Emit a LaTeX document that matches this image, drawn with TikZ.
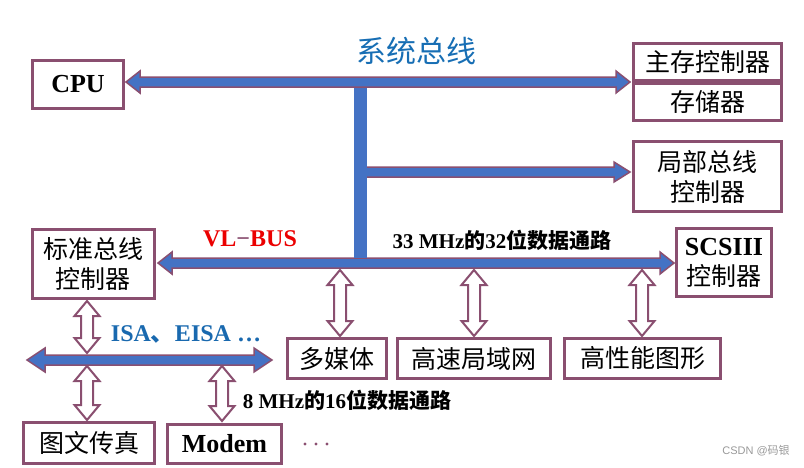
\documentclass[tikz,border=0pt]{standalone}
\usepackage{fontspec}
\setmainfont{Liberation Serif}
\newfontfamily\cjk{Noto Sans CJK SC}
\newfontfamily\wmfont{Liberation Sans}
\definecolor{brd}{RGB}{138,79,112}
\definecolor{busblue}{RGB}{68,114,196}
\definecolor{titleblue}{RGB}{23,110,180}
\definecolor{isablue}{RGB}{25,105,175}
\definecolor{vlred}{RGB}{235,0,0}
\newcommand\HBus[6]{\filldraw[bus] (#1,#3) -- (#1+#6,#3-#5) -- (#1+#6,#3-#4) -- (#2-#6,#3-#4) -- (#2-#6,#3-#5) -- (#2,#3) -- (#2-#6,#3+#5) -- (#2-#6,#3+#4) -- (#1+#6,#3+#4) -- (#1+#6,#3+#5) -- cycle;}
\newcommand\VArr[6]{\filldraw[hollow] (#1,#2) -- (#1+#5,#2+#6) -- (#1+#4,#2+#6) -- (#1+#4,#3-#6) -- (#1+#5,#3-#6) -- (#1,#3) -- (#1-#5,#3-#6) -- (#1-#4,#3-#6) -- (#1-#4,#2+#6) -- (#1-#5,#2+#6) -- cycle;}
\begin{document}
\begin{tikzpicture}[x=1pt,y=-1pt,
  box/.style={draw=brd, line width=2.7pt, fill=white, inner sep=0pt, align=center,
    font=\fontsize{25}{30}\selectfont\cjk},
  latinbox/.style={box, font=\fontsize{26}{30}\selectfont\bfseries},
  bus/.style={draw=brd, fill=busblue, line width=1.5pt, line join=miter},
  hollow/.style={draw=brd, fill=white, line width=2pt, line join=miter},
  lbl/.style={inner sep=0pt, font=\fontsize{21}{24}\selectfont\bfseries}]
\useasboundingbox (0,0) rectangle (804,467);
% boxes
\node[latinbox, minimum width=91, minimum height=48] (cpu) at (78,84.5) {CPU};
\node[box, minimum width=148, minimum height=37] (mc) at (707.5,62) {主存控制器};
\node[box, minimum width=148, minimum height=37] (mem) at (707.5,102) {存储器};
\node[box, minimum width=148, minimum height=70] (lbc) at (707.5,176.5) {局部总线\\控制器};
\node[box, minimum width=122, minimum height=69] (sbc) at (93.5,264) {标准总线\\控制器};
\node[box, minimum width=95, minimum height=68] (scsi) at (724,262.5) {{\rmfamily\bfseries\fontsize{26}{30}\selectfont SCSIII}\\控制器};
\node[box, minimum width=99, minimum height=40] (mm) at (337,358.5) {多媒体};
\node[box, minimum width=153, minimum height=40] (lan) at (474,358.5) {高速局域网};
\node[box, minimum width=156, minimum height=40] (gfx) at (642.5,358.5) {高性能图形};
\node[box, minimum width=131, minimum height=41] (fax) at (89,443) {图文传真};
\node[latinbox, minimum width=114, minimum height=39] (modem) at (224.5,444) {Modem};
% hollow arrows
\VArr{340}{270}{336}{6}{12.5}{15}
\VArr{474}{270}{336}{6}{12.5}{15}
\VArr{642}{270}{336}{6}{12.5}{15}
\VArr{87}{301}{353}{6}{12.5}{15}
\VArr{87}{366}{420}{6}{12.5}{15}
\VArr{222}{366}{421}{6}{12.5}{15}
% buses
\HBus{126}{630}{82}{5}{11}{14}
\HBus{158}{674}{263}{5}{11}{14}
\HBus{27}{272}{360}{5}{12}{18}
\filldraw[bus] (360,167) -- (614,167) -- (614,162) -- (630,172) -- (614,182) -- (614,177) -- (360,177) -- cycle;
\fill[busblue] (354,88) rectangle (367,258);
% labels
\node[inner sep=0pt, text=titleblue, font=\fontsize{30}{36}\selectfont\cjk] (t1) at (416,51) {系统总线};
\node[inner sep=0pt, text=vlred, font=\fontsize{24}{28}\selectfont\bfseries] (t2) at (250,239) {VL\textcolor{brd}{−}BUS};
\node[lbl] (t3) at (502,240) {33 MHz{\cjk\bfseries 的}32{\cjk\bfseries 位数据通路}};
\node[lbl] (t4) at (347,400) {8 MHz{\cjk\bfseries 的}16{\cjk\bfseries 位数据通路}};
\node[inner sep=0pt, text=isablue, font=\fontsize{24}{28}\selectfont\bfseries] (t5) at (186,334) {ISA{\cjk 、}EISA …};
\foreach \x in {305,316,327} \fill[brd] (\x,444) circle (1.7);
\node[inner sep=0pt, text=black!40, font=\fontsize{11}{13}\selectfont\wmfont] (wm) at (756,451) {CSDN @{\cjk 码银}};
\end{tikzpicture}
\end{document}
